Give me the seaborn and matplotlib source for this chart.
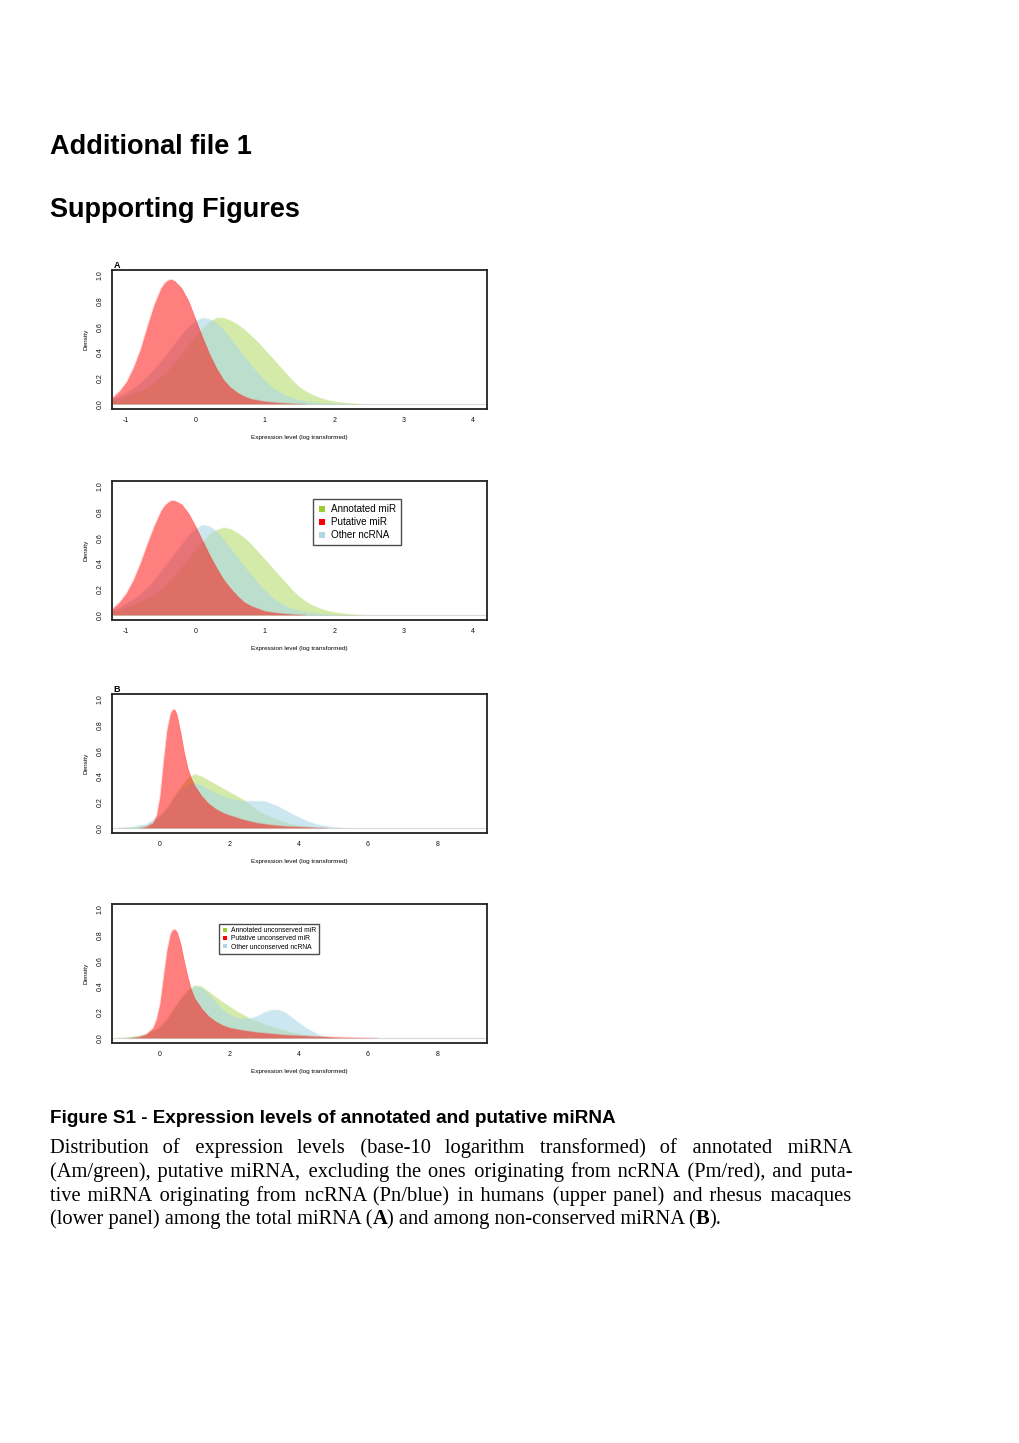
import matplotlib
matplotlib.use("Agg")
import matplotlib.pyplot as plt
from matplotlib.lines import Line2D
import seaborn as sns
import numpy as np

# ---------------- data ----------------
# Panel A (upper: humans, lower: macaques), total miRNA
xa_red = [-1.2, -1.1, -1.0, -0.9, -0.8, -0.7, -0.6, -0.5, -0.45, -0.4, -0.35, -0.3, -0.2,
          -0.1, 0.0, 0.1, 0.2, 0.3, 0.4, 0.5, 0.6, 0.7, 0.8, 0.9, 1.0, 1.2, 1.4, 1.6]
a1_red = [0.05, 0.10, 0.17, 0.28, 0.42, 0.60, 0.77, 0.90, 0.94, 0.962, 0.968, 0.955, 0.90,
          0.80, 0.66, 0.52, 0.39, 0.28, 0.19, 0.13, 0.09, 0.06, 0.04, 0.03, 0.02, 0.01,
          0.004, 0.0]
a2_red = [0.05, 0.10, 0.17, 0.27, 0.40, 0.55, 0.69, 0.81, 0.85, 0.875, 0.89, 0.888, 0.86,
          0.79, 0.69, 0.58, 0.47, 0.37, 0.28, 0.21, 0.15, 0.10, 0.07, 0.05, 0.03, 0.015,
          0.006, 0.0]

xa_blue = [-1.2, -1.1, -1.0, -0.9, -0.8, -0.7, -0.6, -0.5, -0.4, -0.3, -0.2, -0.1, 0.0,
           0.1, 0.2, 0.3, 0.4, 0.5, 0.6, 0.7, 0.8, 0.9, 1.0, 1.1, 1.2, 1.3, 1.4, 1.5,
           1.6, 1.8, 2.0, 2.2]
a1_blue = [0.04, 0.06, 0.09, 0.12, 0.16, 0.21, 0.27, 0.33, 0.40, 0.47, 0.54, 0.60, 0.65,
           0.67, 0.66, 0.63, 0.58, 0.51, 0.44, 0.37, 0.30, 0.24, 0.18, 0.13, 0.095, 0.065,
           0.045, 0.03, 0.02, 0.008, 0.003, 0.0]
a2_blue = [0.04, 0.06, 0.09, 0.12, 0.16, 0.21, 0.27, 0.34, 0.41, 0.48, 0.55, 0.62, 0.67,
           0.70, 0.69, 0.65, 0.59, 0.52, 0.45, 0.38, 0.31, 0.25, 0.19, 0.14, 0.10, 0.07,
           0.05, 0.033, 0.022, 0.009, 0.003, 0.0]

xa_green = [-1.2, -1.1, -1.0, -0.9, -0.8, -0.7, -0.6, -0.5, -0.4, -0.3, -0.2, -0.1, 0.0,
            0.1, 0.2, 0.3, 0.4, 0.5, 0.6, 0.7, 0.8, 0.9, 1.0, 1.1, 1.2, 1.3, 1.4, 1.5,
            1.6, 1.7, 1.8, 1.9, 2.0, 2.2, 2.4]
a1_green = [0.03, 0.04, 0.06, 0.08, 0.10, 0.13, 0.17, 0.21, 0.26, 0.32, 0.39, 0.46, 0.53,
            0.59, 0.64, 0.67, 0.67, 0.65, 0.62, 0.58, 0.53, 0.48, 0.42, 0.36, 0.30, 0.24,
            0.18, 0.13, 0.095, 0.068, 0.047, 0.032, 0.02, 0.007, 0.0]
a2_green = [0.03, 0.04, 0.06, 0.08, 0.10, 0.13, 0.16, 0.20, 0.25, 0.31, 0.37, 0.44, 0.51,
            0.57, 0.63, 0.66, 0.68, 0.67, 0.64, 0.60, 0.55, 0.49, 0.43, 0.37, 0.31, 0.25,
            0.19, 0.14, 0.10, 0.072, 0.05, 0.034, 0.022, 0.008, 0.0]

# Panel B (upper: humans, lower: macaques), non-conserved miRNA
xb1_red = [-0.6, -0.4, -0.2, -0.1, 0.0, 0.1, 0.2, 0.3, 0.35, 0.4, 0.45, 0.5, 0.6, 0.7, 0.8,
           0.9, 1.0, 1.2, 1.4, 1.6, 1.8, 2.0, 2.4, 2.8, 3.2, 3.6, 4.0, 4.5, 4.85]
b1_red = [0.0, 0.01, 0.04, 0.10, 0.25, 0.52, 0.76, 0.89, 0.915, 0.925, 0.91, 0.87, 0.74,
          0.59, 0.47, 0.39, 0.33, 0.25, 0.19, 0.15, 0.12, 0.10, 0.065, 0.04, 0.025, 0.015,
          0.01, 0.004, 0.0]
xb1_green = [-1.2, -0.8, -0.4, 0.0, 0.2, 0.4, 0.6, 0.8, 1.0, 1.2, 1.4, 1.6, 1.8, 2.0, 2.2,
             2.4, 2.6, 2.8, 3.0, 3.2, 3.4, 3.6, 3.8, 4.0, 4.4, 4.8]
b1_green = [0.0, 0.005, 0.02, 0.08, 0.15, 0.24, 0.32, 0.39, 0.42, 0.40, 0.37, 0.34, 0.31,
            0.28, 0.25, 0.22, 0.18, 0.14, 0.11, 0.085, 0.065, 0.045, 0.03, 0.02, 0.006, 0.0]
xb1_blue = [-1.2, -0.8, -0.4, 0.0, 0.2, 0.4, 0.6, 0.8, 1.0, 1.2, 1.4, 1.6, 1.8, 2.0, 2.2,
            2.4, 2.6, 2.8, 3.0, 3.2, 3.4, 3.6, 3.8, 4.0, 4.2, 4.4, 4.6, 4.8, 5.0, 5.4]
b1_blue = [0.0, 0.01, 0.03, 0.10, 0.16, 0.23, 0.30, 0.34, 0.35, 0.33, 0.30, 0.27, 0.25,
           0.23, 0.22, 0.21, 0.21, 0.21, 0.21, 0.19, 0.17, 0.14, 0.11, 0.085, 0.06, 0.04,
           0.025, 0.015, 0.008, 0.0]

xb2_red = [-0.9, -0.6, -0.4, -0.2, -0.1, 0.0, 0.1, 0.2, 0.3, 0.35, 0.4, 0.45, 0.5, 0.6, 0.7,
           0.8, 0.9, 1.0, 1.2, 1.4, 1.6, 1.8, 2.0, 2.4, 2.8, 3.2, 3.6, 4.0, 4.5, 5.0, 5.5,
           6.0, 6.3]
b2_red = [0.0, 0.01, 0.03, 0.08, 0.15, 0.27, 0.48, 0.68, 0.81, 0.835, 0.845, 0.84, 0.82,
          0.73, 0.60, 0.48, 0.38, 0.31, 0.23, 0.17, 0.13, 0.10, 0.08, 0.06, 0.045, 0.035,
          0.025, 0.02, 0.013, 0.008, 0.005, 0.002, 0.0]
xb2_green = [-1.2, -0.8, -0.4, 0.0, 0.2, 0.4, 0.6, 0.8, 1.0, 1.2, 1.4, 1.6, 1.8, 2.0, 2.2,
             2.4, 2.6, 2.8, 3.0, 3.2, 3.4, 3.6, 3.8, 4.0, 4.4, 4.8, 5.2]
b2_green = [0.0, 0.01, 0.03, 0.09, 0.15, 0.23, 0.31, 0.37, 0.41, 0.40, 0.36, 0.32, 0.28,
            0.245, 0.21, 0.18, 0.15, 0.13, 0.11, 0.09, 0.075, 0.06, 0.045, 0.035, 0.018,
            0.008, 0.0]
xb2_blue = [-1.2, -0.8, -0.4, 0.0, 0.2, 0.4, 0.6, 0.8, 1.0, 1.2, 1.4, 1.6, 1.8, 2.0, 2.2,
            2.4, 2.6, 2.8, 3.0, 3.2, 3.4, 3.6, 3.8, 4.0, 4.2, 4.4, 4.6, 4.8, 5.0]
b2_blue = [0.0, 0.005, 0.02, 0.08, 0.14, 0.22, 0.30, 0.37, 0.40, 0.39, 0.34, 0.28, 0.22,
           0.18, 0.16, 0.15, 0.155, 0.17, 0.20, 0.22, 0.22, 0.20, 0.16, 0.12, 0.08, 0.05,
           0.025, 0.01, 0.0]

labels_a = ["Annotated miR", "Putative miR", "Other ncRNA"]
labels_b = ["Annotated unconserved miR", "Putative unconserved miR",
            "Other unconserved ncRNA"]
xticks_a = [-1, 0, 1, 2, 3, 4]
xticks_b = [0, 2, 4, 6, 8]
yticks = [0.0, 0.2, 0.4, 0.6, 0.8, 1.0]

GREEN, RED, BLUE = "#9ACD32", "#FF0000", "#ADD8E6"

# ---------------- figure ----------------
sns.set_style("white")
plt.rcParams["font.family"] = ["Liberation Sans", "DejaVu Sans"]
plt.rcParams["text.color"] = "black"
plt.rcParams["axes.labelcolor"] = "black"
plt.rcParams["xtick.color"] = "#111111"
plt.rcParams["ytick.color"] = "#111111"

W, H = 1020, 1443
fig = plt.figure(figsize=(W / 100, H / 100), dpi=100)


def fx(px):
    return px / W


def fy(py):
    return 1 - py / H


fig.text(fx(50), fy(154), "Additional file 1", fontsize=19.5, fontweight="bold",
         va="baseline", ha="left")
fig.text(fx(50), fy(217), "Supporting Figures", fontsize=19.5, fontweight="bold",
         va="baseline", ha="left")

panels = [
    dict(top=270, xlim=(-1.21, 4.2), xt=xticks_a, letter="A", legend=None,
         curves=[(xa_green, a1_green), (xa_blue, a1_blue), (xa_red, a1_red)]),
    dict(top=481, xlim=(-1.21, 4.2), xt=xticks_a, letter=None,
         legend=(labels_a, 0.536, 0.87, 7.1, 0.28, 0.55),
         curves=[(xa_green, a2_green), (xa_blue, a2_blue), (xa_red, a2_red)]),
    dict(top=694, xlim=(-1.39, 9.42), xt=xticks_b, letter="B", legend=None,
         curves=[(xb1_green, b1_green), (xb1_blue, b1_blue), (xb1_red, b1_red)]),
    dict(top=904, xlim=(-1.39, 9.42), xt=xticks_b, letter=None,
         legend=(labels_b, 0.286, 0.857, 4.9, 0.2, 0.45),
         curves=[(xb2_green, b2_green), (xb2_blue, b2_blue), (xb2_red, b2_red)]),
]

fills = [(GREEN, 0.42), (BLUE, 0.6), (RED, 0.5)]
ax_left, ax_w, ax_h = 111.7, 375, 139

for p in panels:
    ax = fig.add_axes([fx(ax_left), fy(p["top"] + ax_h), ax_w / W, ax_h / H])
    ax.axhline(0, color="#d9d9d9", lw=0.8, zorder=0)
    for (xs, ys), (col, al) in zip(p["curves"], fills):
        ax.fill_between(xs, 0, ys, color=col, alpha=al, lw=0, zorder=2)
        sns.lineplot(x=xs, y=ys, ax=ax, color=col, alpha=al * 0.3, lw=0.5,
                     sort=False, zorder=2)
    ax.set_xlim(*p["xlim"])
    ax.set_ylim(-0.04, 1.04)
    ax.set_xticks(p["xt"])
    ax.set_xticklabels([str(t) for t in p["xt"]])
    ax.set_yticks(yticks)
    ax.set_yticklabels([f"{t:.1f}" for t in yticks], rotation=90, va="center")
    ax.tick_params(axis="both", direction="out", length=3.5, width=0.7,
                   labelsize=5.0, pad=2.5)
    for s in ax.spines.values():
        s.set_visible(True)
        s.set_linewidth(1.3)
        s.set_color("#222222")
    ax.set_xlabel("Expression level (log transformed)", fontsize=4.6, labelpad=7.5)
    ax.set_ylabel("Density", fontsize=4.6, labelpad=6)
    if p["letter"]:
        ax.text(0.005, 1.0, p["letter"], transform=ax.transAxes, fontsize=6.5,
                fontweight="bold", va="bottom", ha="left")
    if p["legend"]:
        labs, lx, ly, fs, lsp, bpad = p["legend"]
        handles = [Line2D([], [], ls="none", marker="s", markersize=fs * 0.55,
                          color=c, markeredgewidth=0) for c in (GREEN, RED, BLUE)]
        leg = ax.legend(handles, labs, loc="upper left", bbox_to_anchor=(lx, ly),
                        fontsize=fs, frameon=True, fancybox=False, handlelength=0.8,
                        handletextpad=0.5, borderpad=bpad, labelspacing=lsp,
                        borderaxespad=0)
        leg.get_frame().set_edgecolor("#222222")
        leg.get_frame().set_linewidth(1.0)

# ---------------- caption ----------------
fig.text(fx(50), fy(1123), "Figure S1 - Expression levels of annotated and putative miRNA",
         fontsize=13.6, fontweight="bold", va="baseline", ha="left")

renderer = fig.canvas.get_renderer()
serif = ["Liberation Serif", "DejaVu Serif"]
body_fs = 14.8
x_start, x_end = 50, 852
HAIR = "\u200a"


def text_width(txt, weight="normal"):
    t = fig.text(0, 0, txt, fontsize=body_fs, family=serif, fontweight=weight)
    w = t.get_window_extent(renderer).width
    t.remove()
    return w


# width of one hair space, used to stretch the gaps of justified lines
hair_w = (text_width("a" + HAIR * 20 + "a") - text_width("aa")) / 20


def justified(line, base_y):
    words = line.split(" ")
    gaps = len(words) - 1
    extra = (x_end - x_start) - text_width(" ".join(words))
    n = max(0, int(round(extra / hair_w)))
    counts = [n * (i + 1) // gaps - n * i // gaps for i in range(gaps)]
    s = words[0]
    for c, w in zip(counts, words[1:]):
        s += " " + HAIR * c + w
    fig.text(fx(x_start), fy(base_y), s, fontsize=body_fs, family=serif,
             va="baseline", ha="left")


lines = [
    "Distribution of expression levels (base-10 logarithm transformed) of annotated miRNA",
    "(Am/green), putative miRNA, excluding the ones originating from ncRNA (Pm/red), and puta-",
    "tive miRNA originating from ncRNA (Pn/blue) in humans (upper panel) and rhesus macaques",
]
baselines = [1152.5, 1176.5, 1200.5, 1224]
for ln, by in zip(lines, baselines):
    justified(ln, by)

# last line: left aligned, with bold panel letters
pieces = [("(lower panel) among the total miRNA (", "normal"), ("A", "bold"),
          (") and among non-conserved miRNA (", "normal"), ("B", "bold"), (").", "normal")]
x = x_start
for s, w in pieces:
    fig.text(fx(x), fy(baselines[3]), s, fontsize=body_fs, family=serif, fontweight=w,
             va="baseline", ha="left")
    x += text_width(s, w)

fig.savefig("out.png", dpi=100)
